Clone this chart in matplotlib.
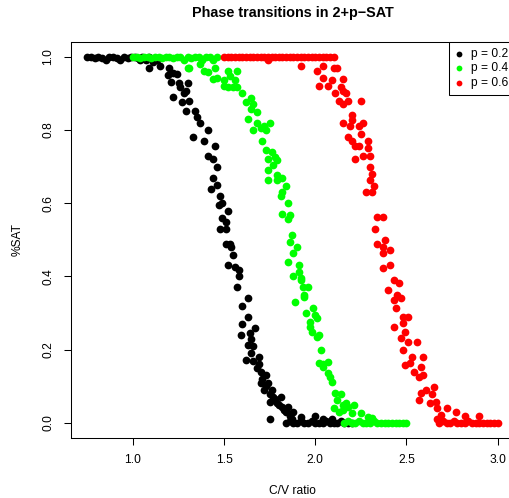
import numpy as np
import matplotlib
matplotlib.use("Agg")
import matplotlib.pyplot as plt

plt.rcParams['font.family'] = ['Liberation Sans', 'DejaVu Sans']

# puntos (C/V, %SAT)
p02 = [(0.75, 1.0), (0.77, 1.0), (0.79, 0.995), (0.81, 1.0), (0.83, 0.997), (0.85, 0.99),
       (0.87, 1.0), (0.89, 1.0), (0.91, 0.995), (0.93, 0.99), (0.95, 1.0), (0.97, 0.997),
       (0.99, 1.0), (1.01, 1.0), (1.03, 0.995), (1.05, 1.0), (1.07, 0.99), (1.09, 1.0),
       (1.11, 0.985), (1.13, 0.99),
       (1.04, 0.99), (1.09, 0.97), (1.11, 0.99), (1.15, 0.975), (1.19, 0.95), (1.20, 0.97),
       (1.22, 0.955), (1.21, 0.93), (1.24, 0.953), (1.25, 0.927), (1.26, 0.916), (1.22, 0.89),
       (1.28, 0.90), (1.30, 0.927), (1.29, 0.907), (1.27, 0.875), (1.31, 0.88), (1.29, 0.853),
       (1.34, 0.853), (1.35, 0.834), (1.37, 0.82), (1.33, 0.78), (1.41, 0.80), (1.39, 0.77),
       (1.45, 0.757), (1.41, 0.73), (1.44, 0.72), (1.46, 0.70), (1.44, 0.67), (1.46, 0.65),
       (1.43, 0.64), (1.48, 0.62), (1.47, 0.595), (1.49, 0.60), (1.52, 0.58), (1.49, 0.56),
       (1.51, 0.55), (1.48, 0.53), (1.51, 0.53), (1.51, 0.49), (1.53, 0.49), (1.54, 0.48),
       (1.55, 0.458), (1.52, 0.43), (1.56, 0.427), (1.58, 0.417), (1.58, 0.40), (1.57, 0.37),
       (1.63, 0.34), (1.60, 0.32), (1.63, 0.29), (1.60, 0.27), (1.67, 0.26), (1.64, 0.245),
       (1.59, 0.24), (1.65, 0.23), (1.63, 0.213), (1.66, 0.21), (1.65, 0.19), (1.62, 0.173),
       (1.69, 0.16), (1.70, 0.14), (1.73, 0.13), (1.70, 0.11), (1.74, 0.11), (1.72, 0.09),
       (1.76, 0.09), (1.77, 0.072), (1.81, 0.072), (1.75, 0.058), (1.79, 0.055), (1.82, 0.045),
       (1.85, 0.045), (1.84, 0.03), (1.88, 0.03), (1.75, 0.01), (1.92, 0.017), (2.00, 0.02),
       (2.04, 0.01), (2.09, 0.01), (1.71, 0.12), (1.73, 0.10), (1.75, 0.08), (1.78, 0.065),
       (1.80, 0.05), (1.83, 0.035), (1.86, 0.02), (1.87, 0.01), (1.68, 0.15), (1.69, 0.18),
       (1.66, 0.17),
       (1.84, 0.0), (1.86, 0.005), (1.88, 0.0), (1.90, 0.0), (1.92, 0.005), (1.94, 0.0),
       (1.96, 0.0), (1.98, 0.005), (2.00, 0.0), (2.02, 0.0), (2.04, 0.0), (2.06, 0.005),
       (2.08, 0.0), (2.10, 0.0), (2.12, 0.0), (2.14, 0.005), (2.16, 0.0), (2.18, 0.0), (2.20, 0.0)]

p04 = [(1.00, 1.0), (1.02, 1.0), (1.04, 0.997), (1.06, 1.0), (1.08, 1.0), (1.10, 0.995),
       (1.12, 1.0), (1.14, 1.0), (1.16, 0.997), (1.18, 1.0), (1.20, 1.0), (1.22, 0.995),
       (1.24, 1.0), (1.26, 1.0), (1.28, 0.99), (1.30, 1.0), (1.32, 0.995), (1.34, 1.0),
       (1.36, 1.0), (1.38, 0.99), (1.40, 1.0), (1.42, 1.0), (1.44, 0.99), (1.46, 1.0),
       (1.30, 0.97), (1.31, 0.97), (1.37, 0.98), (1.39, 0.962), (1.41, 0.957), (1.45, 0.97),
       (1.44, 0.94), (1.46, 0.943), (1.52, 0.962), (1.50, 0.935), (1.53, 0.948), (1.57, 0.962),
       (1.56, 0.935), (1.50, 0.92), (1.52, 0.916), (1.55, 0.916), (1.57, 0.916), (1.60, 0.90),
       (1.62, 0.875), (1.65, 0.886), (1.66, 0.872), (1.65, 0.858), (1.68, 0.848), (1.63, 0.83),
       (1.68, 0.82), (1.72, 0.812), (1.75, 0.82), (1.66, 0.80), (1.70, 0.806), (1.73, 0.80),
       (1.71, 0.77), (1.73, 0.745), (1.76, 0.74), (1.74, 0.72), (1.78, 0.725), (1.79, 0.717),
       (1.77, 0.703), (1.74, 0.69), (1.79, 0.676), (1.82, 0.67), (1.74, 0.662), (1.79, 0.662),
       (1.84, 0.648), (1.82, 0.63), (1.81, 0.62), (1.85, 0.60), (1.82, 0.57), (1.86, 0.567),
       (1.85, 0.558), (1.87, 0.512), (1.86, 0.494), (1.90, 0.48), (1.88, 0.463), (1.85, 0.44),
       (1.91, 0.432), (1.91, 0.412), (1.88, 0.40), (1.92, 0.396), (1.92, 0.39), (1.93, 0.372),
       (1.96, 0.372), (1.94, 0.35), (1.94, 0.344), (1.89, 0.33), (1.99, 0.314), (1.95, 0.30),
       (2.00, 0.295), (2.01, 0.287), (1.97, 0.275), (1.97, 0.262), (1.98, 0.249), (2.02, 0.24),
       (2.01, 0.235), (2.03, 0.20), (2.02, 0.163), (2.04, 0.162), (2.07, 0.167), (2.04, 0.153),
       (2.07, 0.137), (2.08, 0.126), (2.09, 0.113), (2.11, 0.083), (2.14, 0.078), (2.12, 0.064),
       (2.15, 0.05), (2.17, 0.055), (2.10, 0.042), (2.15, 0.036), (2.18, 0.045), (2.21, 0.05),
       (2.13, 0.03), (2.20, 0.028), (2.25, 0.028), (2.29, 0.017), (2.31, 0.015),
       (2.16, 0.0), (2.18, 0.005), (2.20, 0.0), (2.22, 0.0), (2.24, 0.005), (2.26, 0.0),
       (2.28, 0.0), (2.30, 0.0), (2.32, 0.005), (2.34, 0.0), (2.36, 0.0), (2.38, 0.0),
       (2.40, 0.0), (2.42, 0.0), (2.44, 0.0), (2.46, 0.0), (2.48, 0.0), (2.50, 0.0)]

p06 = [(1.50, 1.0), (1.52, 1.0), (1.54, 1.0), (1.56, 1.0), (1.58, 1.0), (1.60, 1.0),
       (1.62, 1.0), (1.64, 1.0), (1.66, 1.0), (1.68, 1.0), (1.70, 1.0), (1.72, 1.0),
       (1.74, 1.0), (1.76, 1.0), (1.78, 1.0), (1.80, 1.0), (1.82, 1.0), (1.84, 1.0),
       (1.86, 1.0), (1.88, 1.0), (1.90, 1.0), (1.92, 1.0), (1.94, 1.0), (1.96, 1.0),
       (1.98, 1.0), (2.00, 1.0), (2.02, 1.0), (2.04, 1.0), (2.06, 1.0), (2.08, 1.0), (2.10, 1.0),
       (1.74, 0.99), (1.92, 0.975), (2.01, 0.962), (2.02, 0.92), (2.04, 0.975), (2.10, 0.97),
       (2.12, 0.97), (2.04, 0.943), (2.09, 0.935), (2.15, 0.94), (2.07, 0.92), (2.14, 0.916),
       (2.15, 0.907), (2.11, 0.90), (2.17, 0.90), (2.13, 0.88), (2.18, 0.88), (2.15, 0.872),
       (2.25, 0.88), (2.20, 0.84), (2.15, 0.82), (2.20, 0.826), (2.19, 0.812), (2.24, 0.812),
       (2.26, 0.82), (2.25, 0.79), (2.18, 0.78), (2.20, 0.77), (2.22, 0.757), (2.24, 0.757),
       (2.29, 0.77), (2.29, 0.75), (2.26, 0.73), (2.30, 0.73), (2.22, 0.72), (2.30, 0.70),
       (2.31, 0.68), (2.30, 0.662), (2.32, 0.648), (2.28, 0.63), (2.31, 0.63), (2.34, 0.562),
       (2.37, 0.562), (2.33, 0.53), (2.38, 0.50), (2.34, 0.49), (2.37, 0.48), (2.41, 0.472),
       (2.37, 0.463), (2.41, 0.43), (2.37, 0.422), (2.43, 0.39), (2.46, 0.381), (2.40, 0.363),
       (2.45, 0.35), (2.43, 0.336), (2.47, 0.341), (2.44, 0.314), (2.48, 0.29), (2.51, 0.29),
       (2.43, 0.262), (2.48, 0.272), (2.49, 0.249), (2.47, 0.232), (2.51, 0.221), (2.56, 0.221),
       (2.48, 0.20), (2.53, 0.18), (2.59, 0.18), (2.49, 0.159), (2.52, 0.163), (2.58, 0.153),
       (2.54, 0.14), (2.59, 0.13), (2.57, 0.126), (2.65, 0.099), (2.61, 0.09), (2.58, 0.083),
       (2.64, 0.078), (2.57, 0.064), (2.66, 0.058), (2.63, 0.055), (2.67, 0.042), (2.72, 0.042),
       (2.69, 0.023), (2.77, 0.03), (2.82, 0.02), (2.90, 0.02), (2.67, 0.01),
       (2.68, 0.0), (2.70, 0.005), (2.72, 0.0), (2.74, 0.0), (2.76, 0.005), (2.78, 0.0),
       (2.80, 0.0), (2.82, 0.0), (2.84, 0.005), (2.86, 0.0), (2.88, 0.0), (2.90, 0.0),
       (2.92, 0.0), (2.94, 0.0), (2.96, 0.0), (2.98, 0.0), (3.00, 0.0)]

series = [(p02, 'black', 'p = 0.2'), (p04, '#00FF00', 'p = 0.4'), (p06, '#FF0000', 'p = 0.6')]
fs = 8.64

fig = plt.figure(figsize=(5.09, 4.98), dpi=100)
ax = fig.add_axes([71/509, 60.3/498, 443/509, 395.7/498])

for datos, color, etiqueta in series:
    d = np.array(datos)
    ax.scatter(d[:, 0], d[:, 1], s=31, c=color, linewidths=0, label=etiqueta)

ax.set_xlim(0.66, 3.09)
ax.set_ylim(-0.04, 1.04)
ax.set_xticks([1.0, 1.5, 2.0, 2.5, 3.0])
ax.set_xticklabels(['1.0', '1.5', '2.0', '2.5', '3.0'])
ax.set_yticks([0.0, 0.2, 0.4, 0.6, 0.8, 1.0])
ax.set_yticklabels(['0.0', '0.2', '0.4', '0.6', '0.8', '1.0'])
ax.tick_params(length=5, width=0.75, labelsize=fs, pad=7)
ax.tick_params(axis='y', labelrotation=90, pad=7)
for lab in ax.get_yticklabels():
    lab.set_va('center')
for s in ax.spines.values():
    s.set_linewidth(0.75)

ax.set_title('Phase transitions in 2+p\u2212SAT', fontsize=10.4, fontweight='bold', pad=18)
ax.set_xlabel('C/V ratio', fontsize=fs, va='center')
ax.xaxis.set_label_coords(0.5, -0.135)
ax.set_ylabel('%SAT', fontsize=fs, va='center')
ax.yaxis.set_label_coords(-0.12, 0.5)

leg = ax.legend(loc='upper right', bbox_to_anchor=(1, 1), borderaxespad=0, fontsize=fs,
                fancybox=False, edgecolor='black', framealpha=1, borderpad=0.5,
                handlelength=0.6, handletextpad=0.7, labelspacing=0.2, markerscale=0.75)
leg.get_frame().set_linewidth(0.75)

plt.savefig('out.png', dpi=100)
